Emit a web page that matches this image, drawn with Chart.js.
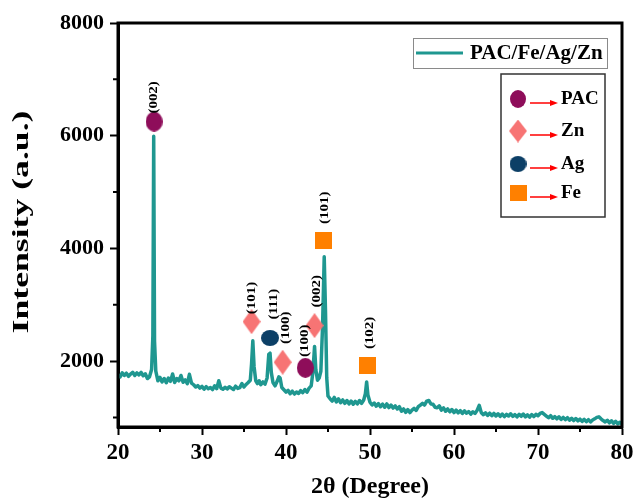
<!DOCTYPE html>
<html>
<head>
<meta charset="utf-8">
<script src="https://cdn.jsdelivr.net/npm/chart.js@4.4.1/dist/chart.umd.min.js"></script>
<style>
  html, body { margin: 0; padding: 0; background: #fff; }
  #wrap { width: 633px; height: 501px; }
</style>
</head>
<body>
<div id="wrap"><canvas id="xrd" width="633" height="501"></canvas></div>
<script>
// XRD pattern of PAC/Fe/Ag/Zn
const twoTheta = [
    20.00, 20.25, 20.50, 20.75, 21.00, 21.25, 21.50, 21.75, 22.00, 22.25, 22.50, 22.75, 23.00, 23.25, 23.50, 23.75, 24.00,
    24.15, 24.25, 24.35, 24.50, 24.75,
    25.00, 25.25, 25.50, 25.75, 26.00, 26.25, 26.50, 26.75, 27.00, 27.25, 27.50, 27.75, 28.00, 28.25, 28.50, 28.75, 29.00, 29.25, 29.50, 29.75,
    30.00, 30.25, 30.50, 30.75, 31.00, 31.25, 31.50, 31.75, 32.00, 32.25, 32.50, 32.75, 33.00, 33.25, 33.50, 33.75, 34.00, 34.25, 34.50, 34.75, 35.00, 35.25, 35.50, 35.75,
    35.90, 36.05, 36.20, 36.40, 36.60, 36.80, 37.00, 37.25, 37.50, 37.75, 37.95, 38.10, 38.25, 38.45, 38.70, 38.95, 39.15, 39.30, 39.50, 39.75,
    40.00, 40.25, 40.50, 40.75, 41.00, 41.25, 41.50, 41.75, 42.00, 42.25, 42.50, 42.75,
    43.00, 43.20, 43.40, 43.55, 43.75, 43.95, 44.15, 44.35, 44.55, 44.70, 44.85, 45.00,
    45.25, 45.50, 45.75, 46.00, 46.25, 46.50, 46.75, 47.00, 47.25, 47.50, 47.75, 48.00, 48.25, 48.50, 48.75, 49.00, 49.25,
    49.45, 49.60, 49.75, 50.00,
    50.25, 50.50, 50.75, 51.00, 51.25, 51.50, 51.75, 52.00, 52.25, 52.50, 52.75, 53.00, 53.25, 53.50, 53.75, 54.00, 54.25, 54.50, 54.75, 55.00, 55.25, 55.50, 55.75, 56.00,
    56.25, 56.50, 56.75, 57.00, 57.25, 57.50, 57.75, 58.00, 58.25, 58.50, 58.75, 59.00, 59.25, 59.50, 59.75, 60.00, 60.25, 60.50, 60.75, 61.00, 61.25, 61.50, 61.75, 62.00,
    62.25, 62.50, 62.75, 63.00, 63.25, 63.50, 63.75, 64.00, 64.25, 64.50, 64.75, 65.00, 65.25, 65.50, 65.75, 66.00, 66.25, 66.50, 66.75, 67.00, 67.25, 67.50, 67.75, 68.00,
    68.25, 68.50, 68.75, 69.00, 69.25, 69.50, 69.75, 70.00, 70.25, 70.50, 70.75, 71.00, 71.25, 71.50, 71.75, 72.00, 72.25, 72.50, 72.75, 73.00, 73.25, 73.50, 73.75, 74.00,
    74.25, 74.50, 74.75, 75.00, 75.25, 75.50, 75.75, 76.00, 76.25, 76.50, 76.75, 77.00, 77.25, 77.50, 77.75, 78.00, 78.25, 78.50, 78.75, 79.00, 79.25, 79.50, 79.75, 80.00
];
const intensity = [
    1760, 1720, 1790, 1745, 1785, 1730, 1770, 1800, 1745, 1790, 1755, 1800, 1740, 1775, 1690, 1720, 1850,
    2450, 5990, 2350, 1820, 1650,
    1710, 1630, 1690, 1615, 1700, 1640, 1770, 1620, 1690, 1650, 1745, 1625, 1665, 1600, 1765, 1610, 1580, 1540, 1565, 1520,
    1550, 1500, 1545, 1510, 1530, 1495, 1560, 1510, 1650, 1520, 1500, 1535, 1505, 1545, 1520, 1495, 1555, 1515, 1530, 1600, 1540, 1585, 1620, 1660,
    1950, 2360, 1900, 1650, 1600, 1650, 1580, 1630, 1590, 1700, 2120, 2140, 1800, 1620, 1560, 1640, 1720, 1700, 1530, 1490,
    1450, 1480, 1420, 1465, 1415, 1450, 1425, 1475, 1440, 1495, 1450, 1520,
    1560, 1800, 2260, 1850, 1660, 1700, 1820, 2600, 3850, 2900, 1700, 1380,
    1330, 1290, 1355, 1275, 1330, 1260, 1310, 1250, 1300, 1240, 1290, 1235, 1285, 1240, 1300, 1250, 1310,
    1420, 1630, 1400, 1270,
    1220, 1255, 1200, 1245, 1190, 1235, 1180, 1240, 1175, 1220, 1165, 1205, 1150, 1190, 1110, 1150, 1090, 1140, 1085, 1130, 1160, 1125, 1190, 1220,
    1250, 1220, 1290, 1300, 1240, 1235, 1180, 1170, 1205, 1130, 1170, 1110, 1150, 1100, 1140, 1085, 1130, 1080, 1120, 1070, 1115, 1075, 1105, 1060,
    1100, 1070, 1125, 1215, 1085, 1050, 1080, 1035, 1075, 1030, 1070, 1025, 1065, 1020, 1060, 1015, 1055, 1025, 1065, 1020, 1050, 1010, 1055, 1020,
    1060, 1010, 1045, 1005, 1050, 1015, 1055, 1030, 1070, 1085, 1055, 1025, 995, 1030, 985, 1015, 975, 1010, 965, 1000, 960, 995, 950, 985,
    945, 980, 940, 970, 930, 965, 925, 960, 920, 955, 975, 1000, 1010, 975, 945, 920, 950, 905, 940, 895, 930, 885, 915, 880
];

// phase markers
const pacX = [24.3, 42.3];
const pacY = [6250, 1880];
const znX = [35.9, 39.6, 43.4];
const znY = [2700, 1980, 2630];
const agX = [38.1];
const agY = [2410];
const feX = [44.5, 49.7];
const feY = [4140, 1930];

// Miller indices above the peaks
const hklText = ['(002)', '(101)', '(111)', '(100)', '(100)', '(002)', '(101)', '(102)'];
const hklX = [24.3, 35.9, 38.5, 39.9, 42.2, 43.6, 44.6, 50.0];
const hklY = [6680, 3120, 3010, 2590, 2360, 3240, 4720, 2500];

const xTicks = [20, 30, 40, 50, 60, 70, 80];
const xMinor = [25, 35, 45, 55, 65, 75];
const yTicks = [2000, 4000, 6000, 8000];
const yMinor = [1000, 3000, 5000, 7000];

const legendNames = ['PAC', 'Zn', 'Ag', 'Fe'];
const seriesName = 'PAC/Fe/Ag/Zn';

const SERIF = '"Liberation Serif", "Times New Roman", serif';
const LINE_COLOR = '#1f9790';
const PAC_COLOR = '#8e0d5a';
const ZN_COLOR = '#f77474';
const AG_COLOR = '#0c3f66';
const FE_COLOR = '#ff8000';

function makeMarker(shape, color, w, h) {
    const c = document.createElement('canvas');
    c.width = w;
    c.height = h;
    const g = c.getContext('2d');
    g.fillStyle = color;
    g.beginPath();
    if (shape === 'ellipse') {
        g.ellipse(w / 2, h / 2, w / 2, h / 2, 0, 0, Math.PI * 2);
    } else if (shape === 'diamond') {
        g.moveTo(w / 2, 0);
        g.lineTo(w, h / 2);
        g.lineTo(w / 2, h);
        g.lineTo(0, h / 2);
        g.closePath();
    } else {
        g.rect(0, 0, w, h);
    }
    g.fill();
    return c;
}

const pacMark = makeMarker('ellipse', PAC_COLOR, 17, 20);
const znMark = makeMarker('diamond', ZN_COLOR, 18, 25);
const agMark = makeMarker('ellipse', AG_COLOR, 18, 16);
const feMark = makeMarker('square', FE_COLOR, 17, 17);
const legendMarks = [
    makeMarker('ellipse', PAC_COLOR, 16, 18),
    makeMarker('diamond', ZN_COLOR, 18, 23),
    makeMarker('ellipse', AG_COLOR, 17, 16),
    makeMarker('square', FE_COLOR, 17, 16)
];

function pairs(xs, ys) {
    return xs.map((x, i) => ({ x: x, y: ys[i] }));
}

function markerSet(xs, ys, img) {
    return {
        type: 'scatter',
        data: pairs(xs, ys),
        pointStyle: img,
        pointRadius: 9,
        showLine: false
    };
}

function rotatedText(ctx, text, x, y, font, stretch) {
    ctx.save();
    ctx.translate(x, y);
    ctx.rotate(-Math.PI / 2);
    ctx.scale(stretch, 1);
    ctx.font = font;
    ctx.textAlign = 'center';
    ctx.textBaseline = 'middle';
    ctx.fillText(text, 0, 0);
    ctx.restore();
}

const decorPlugin = {
    id: 'decor',
    afterDraw(chart) {
        const ctx = chart.ctx;
        const area = chart.chartArea;
        const xs = chart.scales.x;
        const ys = chart.scales.y;
        ctx.save();
        ctx.fillStyle = '#000';
        ctx.strokeStyle = '#000';

        // frame
        ctx.lineWidth = 3;
        ctx.strokeRect(area.left, area.top, area.right - area.left, area.bottom - area.top);

        // minor ticks
        ctx.lineWidth = 2;
        ctx.beginPath();
        xMinor.forEach(v => {
            const px = xs.getPixelForValue(v);
            ctx.moveTo(px, area.bottom);
            ctx.lineTo(px, area.bottom + 5);
        });
        yMinor.forEach(v => {
            const py = ys.getPixelForValue(v);
            ctx.moveTo(area.left, py);
            ctx.lineTo(area.left - 5, py);
        });
        ctx.stroke();

        // y axis title
        rotatedText(ctx, 'Intensity (a.u.)', 22, 222, 'bold 23px ' + SERIF, 1.55);

        // Miller indices
        hklText.forEach((t, i) => {
            rotatedText(ctx, t, xs.getPixelForValue(hklX[i]), ys.getPixelForValue(hklY[i]), 'bold 13px ' + SERIF, 1.15);
        });

        // series legend
        ctx.lineWidth = 1;
        ctx.strokeStyle = '#8a8a8a';
        ctx.strokeRect(413.5, 38.5, 194, 30);
        ctx.strokeStyle = LINE_COLOR;
        ctx.lineWidth = 3;
        ctx.beginPath();
        ctx.moveTo(416, 53);
        ctx.lineTo(463, 53);
        ctx.stroke();
        ctx.font = 'bold 21px ' + SERIF;
        ctx.textAlign = 'left';
        ctx.textBaseline = 'middle';
        ctx.fillText(seriesName, 470, 54);

        // phase legend
        ctx.lineWidth = 1.5;
        ctx.strokeStyle = '#333';
        ctx.strokeRect(501, 74, 104, 143);
        const rows = [99, 131, 164, 193];
        ctx.font = 'bold 19px ' + SERIF;
        legendNames.forEach((name, i) => {
            const cy = rows[i];
            const img = legendMarks[i];
            ctx.drawImage(img, 518 - img.width / 2, cy - img.height / 2);
            ctx.strokeStyle = '#ff0000';
            ctx.fillStyle = '#ff0000';
            ctx.lineWidth = 1.5;
            ctx.beginPath();
            ctx.moveTo(530, cy + 4);
            ctx.lineTo(552, cy + 4);
            ctx.stroke();
            ctx.beginPath();
            ctx.moveTo(558, cy + 4);
            ctx.lineTo(550, cy + 1);
            ctx.lineTo(550, cy + 7);
            ctx.closePath();
            ctx.fill();
            ctx.fillStyle = '#000';
            ctx.fillText(name, 561, cy);
        });
        ctx.restore();
    }
};

new Chart(document.getElementById('xrd'), {
    type: 'line',
    data: {
        datasets: [
            markerSet(pacX, pacY, pacMark),
            markerSet(znX, znY, znMark),
            markerSet(agX, agY, agMark),
            markerSet(feX, feY, feMark),
            {
                label: seriesName,
                data: pairs(twoTheta, intensity),
                borderColor: LINE_COLOR,
                borderWidth: 3.5,
                pointRadius: 0,
                tension: 0,
                borderJoinStyle: 'round'
            }
        ]
    },
    options: {
        responsive: false,
        animation: false,
        events: [],
        layout: { padding: { top: 23, right: 11, left: 0, bottom: 0 } },
        plugins: {
            legend: { display: false },
            tooltip: { enabled: false }
        },
        scales: {
            x: {
                type: 'linear',
                min: 20,
                max: 80,
                afterBuildTicks: scale => { scale.ticks = xTicks.map(v => ({ value: v })); },
                afterFit: scale => {
                    scale.height = 74;
                    scale.paddingLeft = 0;
                    scale.paddingRight = 0;
                },
                ticks: {
                    color: '#000',
                    padding: 4,
                    maxRotation: 0,
                    callback: v => String(v),
                    font: { family: SERIF, size: 23, weight: 'bold' }
                },
                grid: { drawOnChartArea: false, tickLength: 8, tickWidth: 2, tickColor: '#000' },
                border: { display: true, color: '#000', width: 3 },
                title: {
                    display: true,
                    text: '2θ (Degree)',
                    color: '#000',
                    padding: { top: 4, bottom: 0 },
                    font: { family: SERIF, size: 24, weight: 'bold' }
                }
            },
            y: {
                min: 830,
                max: 8000,
                afterBuildTicks: scale => { scale.ticks = yTicks.map(v => ({ value: v })); },
                afterFit: scale => {
                    scale.width = 118;
                    scale.paddingTop = 0;
                    scale.paddingBottom = 0;
                },
                ticks: {
                    color: '#000',
                    padding: 6,
                    callback: v => String(v),
                    font: { family: SERIF, size: 22, weight: 'bold' }
                },
                grid: { drawOnChartArea: false, tickLength: 8, tickWidth: 2, tickColor: '#000' },
                border: { display: true, color: '#000', width: 3 }
            }
        }
    },
    plugins: [decorPlugin]
});
</script>
</body>
</html>
